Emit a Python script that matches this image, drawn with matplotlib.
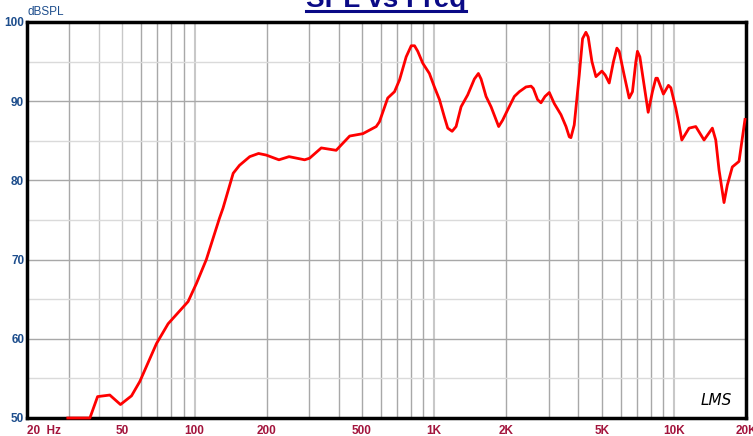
import matplotlib
matplotlib.use("Agg")
import matplotlib.pyplot as plt
from matplotlib.lines import Line2D

# frequency response (Hz, dB SPL)
freq = [29.6, 36.6, 39.4, 44.3, 49.1, 54.6, 59.1, 69.4, 77.6, 94.0, 101.9, 112, 127,
        131.5, 145, 154, 170, 185, 199, 225, 248, 288, 302, 338, 390, 444, 504, 573,
        591, 640, 683, 717, 764, 802, 828, 854, 896, 955, 1002, 1052, 1103, 1139,
        1188, 1234, 1295, 1380, 1471, 1529, 1569, 1646, 1727, 1858, 1930, 2025, 2160,
        2266, 2416, 2536, 2593, 2700, 2790, 2900, 3022, 3170, 3380, 3548, 3662, 3720,
        3840, 4030, 4160, 4296, 4392, 4552, 4730, 5008, 5172, 5374, 5598, 5786, 5914,
        6204, 6510, 6720, 6942, 7048, 7214, 7516, 7814, 8140, 8412, 8540, 9046, 9492,
        9714, 10190, 10516, 10794, 11574, 12344, 13366, 14476, 14956, 15440, 16192,
        16712, 17538, 18702, 19808]
spl = [50.0, 50.0, 52.7, 52.9, 51.7, 52.8, 54.6, 59.4, 61.9, 64.7, 67.0, 70.0, 75.2,
       76.5, 80.9, 81.9, 83.0, 83.4, 83.2, 82.6, 83.0, 82.6, 82.8, 84.1, 83.8, 85.6,
       85.9, 86.8,
       87.4, 90.4, 91.2, 92.7, 95.6, 97.0, 97.0, 96.3, 94.8, 93.5, 91.8, 90.2, 88.0, 86.6,
       86.2, 86.8, 89.3, 90.8, 92.8, 93.5, 92.8, 90.6, 89.3, 86.8, 87.6, 88.9, 90.6,
       91.2, 91.8, 91.9, 91.6, 90.2, 89.8, 90.6, 91.1, 89.7, 88.3, 86.8, 85.5, 85.4,
       87.0, 93.3, 97.9, 98.7, 98.1, 95.0, 93.1, 93.8, 93.3, 92.3, 95.0, 96.7, 96.3,
       93.3, 90.4, 91.2, 95.0, 96.3, 95.6, 92.0, 88.6, 91.2, 92.9, 92.9, 90.9, 92.0,
       91.7, 89.1, 87.0, 85.1, 86.6, 86.8, 85.1, 86.6, 85.1, 81.3, 77.2,
       79.4, 81.7, 82.4, 87.7]

xticks = [20, 50, 100, 200, 500, 1000, 2000, 5000, 10000, 20000]
xlabels = ["20  Hz", "50", "100", "200", "500", "1K", "2K", "5K", "10K", "20K"]
yticks = [50, 60, 70, 80, 90, 100]

plt.rcParams["font.family"] = ["Liberation Sans", "DejaVu Sans"]

fig = plt.figure(figsize=(7.53, 4.36), dpi=100)
ax = fig.add_axes([27 / 753, 1 - 418 / 436, 719 / 753, 396 / 436])

ax.set_xscale("log")
ax.set_xlim(20, 20000)
ax.set_ylim(50, 100)

# grid
minor_x = [m * d for d in (10, 100, 1000) for m in range(2, 10)]
for f in minor_x:
    if 20 <= f < 20000:
        c = "#c8c8c8" if f in (40, 50) else "#a8a8a8"
        ax.axvline(f, color=c, lw=1, zorder=1)
for f in (100, 1000, 10000):
    ax.axvline(f, color="#c8c8c8", lw=1.5, zorder=1)
for v in range(55, 100, 10):
    ax.axhline(v, color="#dadada", lw=1, zorder=1)
for v in range(60, 100, 10):
    ax.axhline(v, color="#a8a8a8", lw=1, zorder=1)

ax.plot(freq, spl, color="#ff0000", lw=2, zorder=3, clip_on=False,
        solid_joinstyle="round")

for s in ax.spines.values():
    s.set_linewidth(2.5)
    s.set_color("black")
    s.set_zorder(2)

ax.set_xticks(xticks)
ax.set_xticklabels(xlabels)
ax.xaxis.set_minor_locator(matplotlib.ticker.NullLocator())
ax.set_yticks(yticks)
ax.tick_params(length=0)
ax.tick_params(axis="x", pad=5, labelsize=8.5, labelcolor="#a3143c")
ax.tick_params(axis="y", pad=2, labelsize=8.5, labelcolor="#1d4d8c")
for lab in ax.get_xticklabels() + ax.get_yticklabels():
    lab.set_fontweight("bold")
ax.get_xticklabels()[0].set_horizontalalignment("left")

fig.text(28 / 753, 1 - 12 / 436, "dBSPL", color="#1d4d8c", fontsize=8.5,
         va="center", ha="left")

title = fig.text(386 / 753, 1 - 7 / 436, "SPL vs Freq", color="#0a0a86",
                 fontsize=20, fontweight="bold", ha="center", va="baseline")
fig.canvas.draw()
bb = title.get_window_extent()
y_ul = 1 - 11 / 436
fig.add_artist(Line2D([bb.x0 / 753, bb.x1 / 753], [y_ul, y_ul],
                      color="#0a0a86", lw=2.2, transform=fig.transFigure))

ax.text(0.98, 0.025, "LMS", transform=ax.transAxes, fontsize=11,
        fontstyle="italic", family="DejaVu Sans", ha="right", va="bottom",
        color="black")

fig.savefig("out.png", dpi=100)
